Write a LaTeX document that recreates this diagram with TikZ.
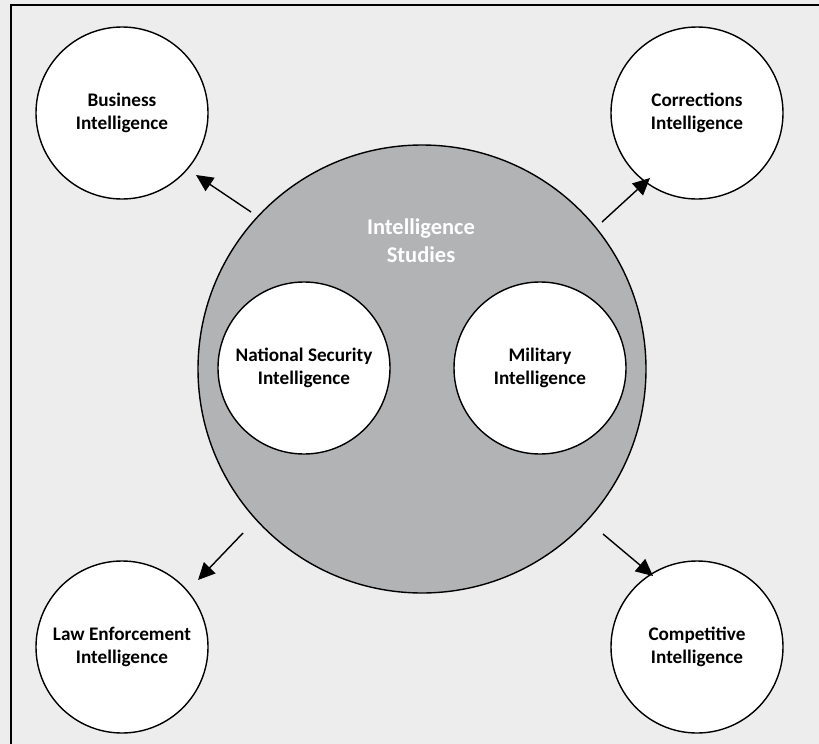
\documentclass[tikz,border=0pt]{standalone}
\usepackage{fontspec}
\setmainfont{Carlito}
\usetikzlibrary{arrows.meta}
\definecolor{panel}{HTML}{EDEDED}
\definecolor{core}{HTML}{B2B3B5}
\begin{document}
\begin{tikzpicture}[x=1pt,y=-1pt,
  field/.style={circle,draw=black,line width=1.4pt,fill=white,minimum size=172pt,inner sep=0pt,
    align=center,font=\bfseries\fontsize{19.2}{23.5}\selectfont},
  hub/.style={circle,draw=black,line width=1.4pt,fill=core,minimum size=448pt,inner sep=0pt},
  link/.style={line width=1.4pt,-{Triangle[length=17pt,width=16pt]}}]
  \useasboundingbox (0,0) rectangle (819,744);
  \fill[panel] (0,0) rectangle (819,744);
  \draw[line width=1.6pt] (11,760) -- (11,5) -- (830,5);

  % central discipline and its two core fields
  \node[hub] (hub) at (422,369) {};
  \node[text=white,align=center,font=\bfseries\fontsize{22.5}{28}\selectfont] (hubtext) at (421,241) {Intelligence\\Studies};
  \node[field] (nsi) at (304,368) {National Security\\Intelligence};
  \node[field] (mil) at (540,368) {Military\\Intelligence};

  % applied fields around it
  \node[field] (bus) at (122,113) {Business\\Intelligence};
  \node[field] (cor) at (697,113) {Corrections\\Intelligence};
  \node[field] (law) at (122,647) {Law Enforcement\\Intelligence};
  \node[field] (com) at (697,647) {Competitive\\Intelligence};

  % arrow end points
  \coordinate (busfrom) at (251,212);
  \coordinate (busto)   at (196,175);
  \coordinate (corfrom) at (602,222);
  \coordinate (corto)   at (650,178);
  \coordinate (lawfrom) at (243,533);
  \coordinate (lawto)   at (198,580);
  \coordinate (comfrom) at (603,534);
  \coordinate (comto)   at (653,576);

  \draw[link] (busfrom) -- (busto);
  \draw[link] (corfrom) -- (corto);
  \draw[link] (lawfrom) -- (lawto);
  \draw[link] (comfrom) -- (comto);
\end{tikzpicture}
\end{document}
